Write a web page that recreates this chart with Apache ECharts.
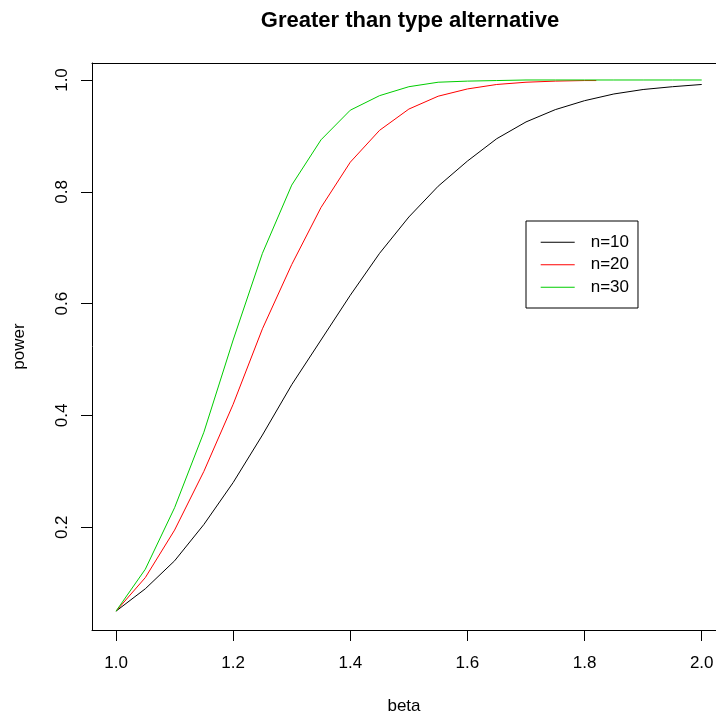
<!DOCTYPE html>
<html><head><meta charset="utf-8">
<script src="https://cdn.jsdelivr.net/npm/echarts@6/dist/echarts.min.js"></script>
<style>html,body{margin:0;padding:0;background:#fff}#c{width:716px;height:717px}</style>
</head><body><div id="c"></div>
<script>
const titleText = 'Greater than type alternative';
const xName = 'beta';
const yName = 'power';
const seriesNames = ['n=10', 'n=20', 'n=30'];
const seriesColors = ['#000000', '#FF0000', '#00CD00'];

const betaN10 = [1.00,1.05,1.10,1.15,1.20,1.25,1.30,1.35,1.40,1.45,1.50,1.55,1.60,1.65,1.70,1.75,1.80,1.85,1.90,1.95,2.00];
const powerN10 = [0.050,0.090,0.140,0.205,0.280,0.365,0.455,0.535,0.615,0.690,0.755,0.810,0.855,0.895,0.925,0.947,0.963,0.975,0.983,0.988,0.992];

const betaN20 = [1.00,1.05,1.10,1.15,1.20,1.25,1.30,1.35,1.40,1.45,1.50,1.55,1.60,1.65,1.70,1.75,1.80,1.82];
const powerN20 = [0.050,0.110,0.195,0.300,0.420,0.555,0.670,0.772,0.853,0.910,0.948,0.971,0.984,0.992,0.996,0.998,0.999,0.999];

const betaN30 = [1.00,1.05,1.10,1.15,1.20,1.25,1.30,1.35,1.40,1.45,1.50,1.55,1.60,1.65,1.70,1.75,1.80,1.85,1.90,1.95,2.00];
const powerN30 = [0.050,0.125,0.235,0.370,0.535,0.690,0.812,0.893,0.946,0.972,0.988,0.996,0.998,0.999,1.000,1.000,1.000,1.000,1.000,1.000,1.000];

const xTicks = [1.0,1.2,1.4,1.6,1.8,2.0];
const yTicks = [0.2,0.4,0.6,0.8,1.0];

const FONT = '"Liberation Sans", Arial, sans-serif';
const zip = (xs, ys) => xs.map((x, i) => [x, ys[i]]);
const betas = [betaN10, betaN20, betaN30];
const powers = [powerN10, powerN20, powerN30];
const X_MIN = 0.959, X_MAX = 2.0244;

const chart = echarts.init(document.getElementById('c'), null, {renderer: 'canvas'});
chart.setOption({
  animation: false,
  backgroundColor: '#fff',
  textStyle: {fontFamily: FONT},
  title: {
    text: titleText, left: 405, top: 5, textAlign: 'center',
    textStyle: {fontSize: 22, fontWeight: 'bold', color: '#000', fontFamily: FONT}
  },
  grid: {left: 92, top: 63, width: 624, height: 567, show: false, containLabel: false, outerBoundsMode: 'none'},
  xAxis: [{
    type: 'value', min: X_MIN, max: X_MAX, position: 'bottom',
    name: xName, nameLocation: 'middle', nameGap: 68,
    nameTextStyle: {fontSize: 17, color: '#000', fontFamily: FONT},
    axisLine: {show: true, lineStyle: {color: '#000', width: 1}},
    axisTick: {show: true, length: 11, lineStyle: {color: '#000'}, customValues: xTicks},
    axisLabel: {fontSize: 17, color: '#000', margin: 25, fontFamily: FONT, customValues: xTicks,
      formatter: v => Number(v).toFixed(1)},
    splitLine: {show: false}
  }, {
    type: 'value', min: X_MIN, max: X_MAX, position: 'top',
    axisLine: {show: true, lineStyle: {color: '#000', width: 1}},
    axisTick: {show: false}, axisLabel: {show: false}, splitLine: {show: false}
  }],
  yAxis: {
    type: 'value', min: 0.0163, max: 1.0304,
    name: yName, nameLocation: 'middle', nameGap: 64, nameRotate: 90,
    nameTextStyle: {fontSize: 17, color: '#000', fontFamily: FONT},
    axisLine: {show: true, lineStyle: {color: '#000', width: 1}},
    axisTick: {show: true, length: 11, lineStyle: {color: '#000'}, customValues: yTicks},
    axisLabel: {fontSize: 17, color: '#000', margin: 21, rotate: 90, fontFamily: FONT, customValues: yTicks,
      formatter: v => Number(v).toFixed(1)},
    splitLine: {show: false}
  },
  legend: {
    orient: 'vertical', left: 526, top: 221,
    padding: [12.8, 9, 12.2, 14.7],
    borderColor: '#000', borderWidth: 1, borderRadius: 0,
    icon: 'rect', itemWidth: 34, itemHeight: 1, itemGap: 5.5,
    textStyle: {fontSize: 17, color: '#000', fontFamily: FONT, lineHeight: 17, padding: [0, 0, 0, 11]},
    data: seriesNames
  },
  series: seriesNames.map((name, i) => ({
    name, type: 'line', symbol: 'none', smooth: false,
    data: zip(betas[i], powers[i]),
    lineStyle: {color: seriesColors[i], width: 1},
    itemStyle: {color: seriesColors[i]}
  }))
});
</script>
</body></html>
